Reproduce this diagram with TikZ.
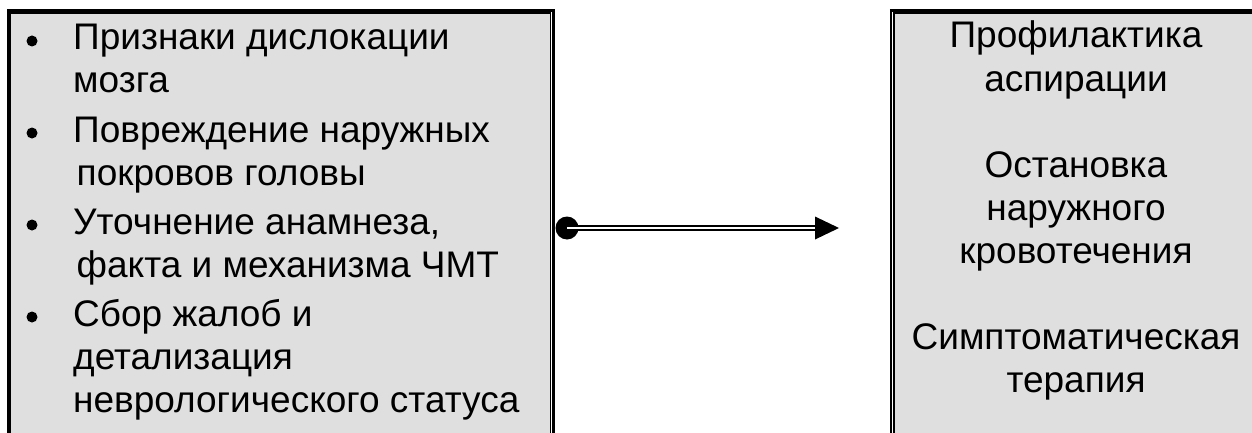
\documentclass[tikz,border=0pt]{standalone}
\usepackage{fontspec}
\setmainfont{Liberation Sans}
\definecolor{panelgray}{RGB}{223,223,223}
\tikzset{
  txt/.style={inner sep=0pt, font=\fontsize{37}{42.5}\selectfont},
  item/.style={txt, anchor=base west},
  ctr/.style={txt, anchor=base},
  bullet/.style={circle, fill=black, inner sep=0pt, minimum size=11pt},
  thickrule/.style={line width=2.4pt},
  thinrule/.style={line width=1.2pt},
  conn/.style={line width=2pt, double=white, double distance=2.6pt},
}
\begin{document}
\begin{tikzpicture}[x=1pt,y=1pt]
\useasboundingbox (0,0) rectangle (1252,432);
\clip (0,0) rectangle (1252,432);

% left panel: background and thick-thin frame (open at the bottom)
\fill[panelgray] (9,-20) rectangle (551,420);
\draw[line width=4pt] (9,-20) -- (9,423.2);
\draw[thickrule] (7,421.6) -- (555,421.6);
\draw[thinrule] (11,419) -- (550.2,419);
\draw[thinrule] (550.2,419.6) -- (550.2,-20);
\draw[thickrule] (553.6,422.8) -- (553.6,-20);

% right panel: background and thick-thin frame (runs off the page)
\fill[panelgray] (893,-20) rectangle (1260,419.5);
\draw[thickrule] (891,-20) -- (891,422.8);
\draw[thickrule] (889.8,421.6) -- (1260,421.6);
\draw[thinrule] (894,-20) -- (894,419);
\draw[thinrule] (893.4,419) -- (1260,419);

% bullet list in the left panel
\node[bullet] (b1) at (32,391) {};
\node[bullet] (b2) at (32,299) {};
\node[bullet] (b3) at (32,207) {};
\node[bullet] (b4) at (32,115) {};
\node[item] (l1) at (73,382) {Признаки дислокации};
\node[item] (l2) at (73,339) {мозга};
\node[item] (l3) at (73,290) {Повреждение наружных};
\node[item] (l4) at (76.5,247) {покровов головы};
\node[item] (l5) at (73,198) {Уточнение анамнеза,};
\node[item] (l6) at (76.5,155) {факта и механизма ЧМТ};
\node[item] (l7) at (73,106) {Сбор жалоб и};
\node[item] (l8) at (73,63) {детализация};
\node[item] (l9) at (73,20) {неврологического статуса};

% measures in the right panel
\node[ctr] (r1) at (1076,384) {Профилактика};
\node[ctr] (r2) at (1076,341) {аспирации};
\node[ctr] (r3) at (1076,255) {Остановка};
\node[ctr] (r4) at (1076,212) {наружного};
\node[ctr] (r5) at (1076,169) {кровотечения};
\node[ctr] (r6) at (1076,83) {Симптоматическая};
\node[ctr] (r7) at (1076,40) {терапия};

% connector: dot, double shaft, solid head
\node[circle, fill=black, inner sep=0pt, minimum size=23pt] (dot) at (567,204) {};
\coordinate (head) at (839,204);
\coordinate (neck) at (815,204);
\draw[conn] (dot.center) -- (neck);
\fill (head) -- ([yshift=11.5pt]neck) -- ([yshift=-11.5pt]neck) -- cycle;
\end{tikzpicture}
\end{document}
